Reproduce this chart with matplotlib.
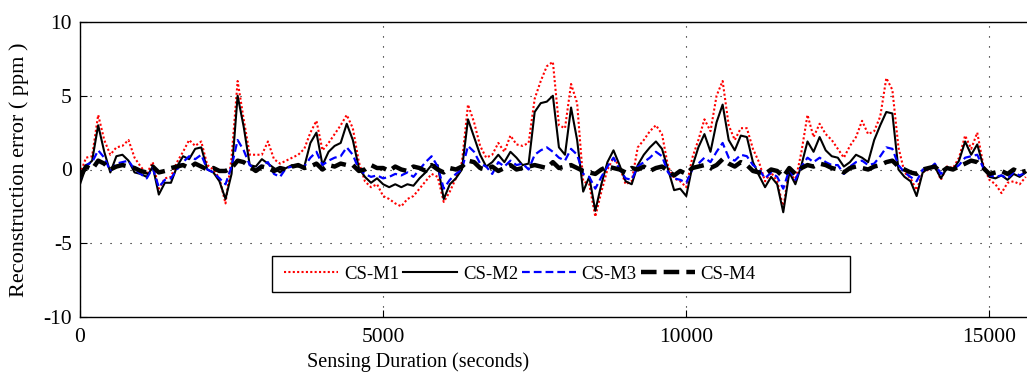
import matplotlib
matplotlib.use("Agg")
import matplotlib.pyplot as plt
from matplotlib.patches import Rectangle
import numpy as np

# Reconstruction error of the four CS variants over the sensing run

# sample times (seconds), one every 100 s
t = np.arange(0, 15700, 100)

cs_m1 = [
    -0.3, 0.8, 0.9, 3.7, 2.0, 1.0, 1.5, 1.6, 2.0, 0.8,
    0.2, -0.3, 0.5, -1.3, -0.6, -0.5, 0.5, 1.2, 2.0, 1.6,
    1.9, 0.3, 0.0, -0.6, -2.3, 0.8, 6.0, 3.4, 1.0, 1.0,
    1.0, 1.9, 0.7, 0.4, 0.6, 0.8, 1.0, 1.4, 2.5, 3.3,
    1.3, 1.8, 2.4, 3.0, 3.7, 2.8, 0.5, -0.8, -1.2, -1.0,
    -1.8, -2.0, -2.3, -2.5, -2.0, -1.8, -1.3, -0.8, -0.3, -0.5,
    -2.2, -1.5, -0.6, 0.5, 4.4, 3.2, 1.6, 0.8, 1.0, 1.8,
    1.2, 2.3, 1.7, 1.6, 1.8, 4.8, 6.0, 7.0, 7.3, 3.0,
    2.8, 5.8, 4.5, -0.8, -1.0, -3.2, -1.5, 0.0, 0.8, 0.2,
    -1.0, -0.8, 1.5, 2.0, 2.6, 3.0, 2.4, 0.2, -0.6, -0.8,
    -1.2, 0.8, 2.0, 3.4, 2.6, 5.0, 6.0, 3.0, 2.0, 2.8,
    2.8, 1.4, 0.5, -0.8, -0.2, -0.8, -2.6, 0.0, -0.8, 1.2,
    3.7, 2.2, 3.1, 2.4, 2.0, 1.4, 0.8, 1.6, 2.2, 3.3,
    2.4, 2.6, 3.6, 6.2, 5.4, 1.5, -0.2, -0.6, -1.4, -0.2,
    0.0, 0.3, -0.7, 0.2, 0.1, 0.8, 2.3, 1.4, 2.5, 0.3,
    -0.7, -1.0, -1.6, -0.9, -0.8, -1.0, -0.5,
]

cs_m2 = [
    -1.0, 0.2, 0.6, 3.0, 1.2, -0.2, 0.9, 1.0, 0.6, -0.2,
    -0.3, -0.5, 0.2, -1.7, -0.9, -0.9, 0.2, 0.9, 0.7, 1.4,
    1.5, 0.0, -0.2, -0.8, -2.0, -0.3, 5.0, 2.9, 0.3, 0.2,
    0.7, 0.4, 0.1, -0.2, 0.1, 0.3, 0.2, 0.2, 1.8, 2.5,
    0.3, 1.2, 1.6, 1.8, 3.1, 2.0, 0.1, -0.5, -0.9, -0.6,
    -1.0, -1.2, -1.0, -1.2, -1.0, -1.1, -0.6, -0.2, 0.3, 0.3,
    -2.0, -1.0, -0.6, 0.0, 3.4, 2.2, 1.0, 0.2, 0.5, 1.0,
    0.5, 1.2, 0.8, 0.3, 0.4, 3.9, 4.5, 4.6, 5.0, 1.5,
    1.0, 4.2, 2.0, -1.5, -0.5, -2.8, -1.0, 0.5, 1.3, 0.3,
    -0.8, -1.0, 0.3, 1.0, 1.5, 1.9, 1.4, 0.0, -1.4, -1.3,
    -1.8, 0.2, 1.5, 2.4, 1.2, 3.2, 4.4, 2.0, 1.3, 2.3,
    2.2, 0.5, -0.4, -1.2, -0.5, -1.0, -2.9, -0.2, -1.0, 0.3,
    1.9, 1.2, 2.2, 1.3, 0.9, 0.8, 0.2, 0.5, 1.0, 0.8,
    0.5, 2.0, 3.0, 3.9, 3.8, 0.0, -0.5, -0.8, -1.8, -0.2,
    0.1, 0.2, -0.6, 0.1, 0.0, 0.6, 1.9, 1.0, 1.7, 0.2,
    -0.5, -0.6, -0.4, -0.7, -0.3, -0.5, -0.2,
]

cs_m3 = [
    -0.6, 0.3, 0.5, 1.3, 0.8, -0.1, 0.4, 0.5, 0.6, 0.0,
    -0.3, -0.6, 0.1, -1.2, -0.7, -0.6, 0.0, 0.5, 0.9, 0.7,
    1.0, 0.0, -0.2, -0.6, -1.0, 0.2, 2.0, 1.3, 0.3, 0.0,
    0.3, 0.5, -0.3, -0.5, 0.1, 0.2, 0.2, 0.2, 0.8, 1.2,
    0.3, 0.6, 0.8, 0.9, 1.5, 1.0, 0.0, -0.3, -0.5, -0.4,
    -0.6, -0.5, -0.3, -0.4, -0.2, -0.5, 0.0, 0.5, 0.9, 0.2,
    -1.3, -0.7, -0.3, 0.0, 1.6, 1.2, 0.4, 0.2, -0.3, 0.5,
    0.2, 0.6, 0.3, 0.4, 0.0, 1.0, 1.3, 1.5, 1.2, 0.8,
    0.6, 1.4, 1.0, -0.3, -0.5, -1.3, -0.5, 0.2, 0.8, 0.0,
    -0.6, -0.7, 0.2, 0.5, 0.8, 1.2, 0.9, -0.2, -0.6, -0.7,
    -0.9, 0.0, 0.4, 0.8, 0.5, 1.2, 1.8, 0.8, 0.6, 1.0,
    0.9, 0.3, 0.0, -0.6, -0.2, -0.5, -1.3, 0.0, -0.7, 0.2,
    0.8, 0.5, 0.8, 0.5, 0.3, 0.3, -0.3, 0.2, 0.5, 0.6,
    0.3, 0.4, 0.9, 1.5, 1.4, 0.3, -0.2, -0.5, -0.8, 0.0,
    0.0, 0.4, -0.3, 0.1, 0.0, 0.3, 0.8, 0.9, 1.0, 0.1,
    -0.4, -0.5, -0.4, -0.6, -0.2, -0.4, -0.2,
]

cs_m4 = [
    -0.5, 0.2, 0.0, 0.6, 0.4, 0.0, 0.2, 0.3, 0.2, 0.1,
    -0.1, -0.2, 0.2, -0.2, -0.1, 0.1, 0.2, 0.3, 0.1, 0.4,
    0.2, 0.0, 0.1, -0.1, -0.1, 0.1, 0.6, 0.5, 0.2, -0.1,
    0.2, 0.1, -0.1, 0.1, 0.0, 0.2, 0.3, 0.1, 0.2, 0.4,
    0.0, 0.3, 0.2, 0.4, 0.3, 0.3, -0.1, 0.0, 0.3, 0.1,
    0.1, -0.1, 0.2, 0.0, -0.1, 0.2, 0.1, -0.1, 0.3, 0.0,
    -0.2, 0.1, 0.0, 0.2, 0.6, 0.5, 0.1, 0.0, 0.2, -0.1,
    0.1, 0.3, 0.0, 0.1, 0.2, 0.3, 0.2, 0.1, 0.5, 0.1,
    0.2, 0.3, 0.1, -0.1, -0.2, -0.3, 0.0, 0.2, 0.1, 0.0,
    -0.2, 0.1, 0.0, 0.2, -0.1, 0.1, 0.2, -0.1, -0.4, -0.1,
    -0.3, 0.1, 0.2, 0.3, 0.1, 0.3, 0.7, 0.4, 0.2, 0.5,
    0.3, -0.1, -0.2, -0.3, 0.0, -0.1, -0.5, 0.1, -0.3, 0.1,
    0.3, 0.2, 0.4, 0.3, 0.1, 0.0, -0.2, 0.1, 0.2, 0.1,
    0.0, 0.2, 0.3, 0.5, 0.6, 0.2, 0.0, -0.2, -0.3, 0.0,
    0.1, 0.2, -0.2, 0.1, 0.0, 0.2, 0.4, 0.6, 0.5, 0.1,
    -0.3, -0.2, -0.1, -0.3, 0.0, -0.2, -0.1,
]

labels = ["CS-M1", "CS-M2", "CS-M3", "CS-M4"]

plt.rcParams["font.family"] = ["Liberation Serif", "DejaVu Serif"]
plt.rcParams["axes.unicode_minus"] = False

W, H = 1027, 377
fig = plt.figure(figsize=(W / 100, H / 100), dpi=100)
# axes run past the right border, the image is cut at x ~ 15600
ax = fig.add_axes([80 / W, 60 / H, 970 / W, 295 / H])

ax.plot(t, cs_m1, color="red", linestyle=(0, (1, 1.1)), linewidth=1.5, label=labels[0])
ax.plot(t, cs_m2, color="black", linestyle="-", linewidth=1.5, label=labels[1])
ax.plot(t, cs_m3, color="blue", linestyle=(0, (3.5, 1.8)), linewidth=1.6, label=labels[2])
ax.plot(t, cs_m4, color="black", linestyle=(0, (3.5, 1.6)), linewidth=3.2, label=labels[3])

ax.set_xlim(0, 16000)
ax.set_ylim(-10, 10)
ax.set_xticks([0, 5000, 10000, 15000])
ax.set_yticks([-10, -5, 0, 5, 10])
ax.tick_params(direction="in", length=5, width=0.8, labelsize=15.5)
ax.tick_params(axis="x", pad=8)
ax.tick_params(axis="y", pad=6)
ax.grid(True, color="black", linestyle=(0, (1, 8)), linewidth=0.8)
for sp in ax.spines.values():
    sp.set_linewidth(1.0)

ax.set_xlabel("Sensing Duration (seconds)", fontsize=14.5)
ax.set_ylabel("Reconstruction error ( ppm )", fontsize=16)
ax.xaxis.set_label_coords((418 - 80) / 970, -0.118)
ax.yaxis.set_label_coords(-(80 - 29) / 970, 0.5)

# legend entries in one row, boxed by a plain black frame
leg = ax.legend(loc="center left", bbox_to_anchor=((284 - 80) / 970, (317 - 274) / 295),
                ncol=4, fontsize=13.5, frameon=False,
                handlelength=2.9, handletextpad=0.3, columnspacing=0.2,
                borderpad=0.0, borderaxespad=0.0)
ax.add_patch(Rectangle(((272 - 80) / 970, (317 - 292) / 295), 578 / 970, 36 / 295,
                       transform=ax.transAxes, facecolor="white", edgecolor="black",
                       linewidth=1.0, zorder=4))
leg.set_zorder(5)

fig.savefig("out.png", dpi=100)
